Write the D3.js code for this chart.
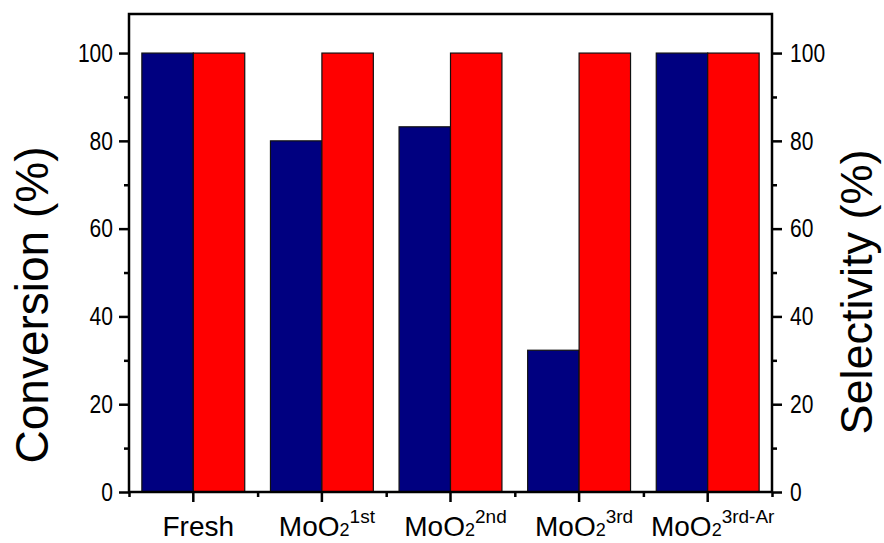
<!DOCTYPE html>
<html>
<head>
<meta charset="utf-8">
<script src="https://cdn.jsdelivr.net/npm/d3@7"></script>
<style>
  body { margin: 0; background: #fff; }
  svg text { font-family: "Liberation Sans", Arial, sans-serif; fill: #000; }
</style>
</head>
<body>
<div class="canvas"></div>
<script>
// data
const categories = ['Fresh', 'MoO2 1st', 'MoO2 2nd', 'MoO2 3rd', 'MoO2 3rd-Ar'];
const labelMain = ['Fresh', 'MoO', 'MoO', 'MoO', 'MoO'];
const labelSub = ['', '2', '2', '2', '2'];
const labelSup = ['', '1st', '2nd', '3rd', '3rd-Ar'];
const conversion = [100, 80, 83.2, 32.3, 100];
const selectivity = [100, 100, 100, 100, 100];
const yTicks = [0, 20, 40, 60, 80, 100];
const yMinorTicks = [10, 30, 50, 70, 90];

// 1. dimensions
const width = 884, height = 543;
const margin = {top: 14, right: 112, bottom: 51, left: 129};
const w = width - margin.left - margin.right;
const h = height - margin.top - margin.bottom;

// 2. svg
const svg = d3.select('.canvas').append('svg')
    .attr('width', width)
    .attr('height', height);

const graph = svg.append('g')
    .attr('transform', `translate(${margin.left},${margin.top})`);

// scales
const x = d3.scaleBand().domain(categories).range([0, w]).padding(0);
const xSub = d3.scaleBand().domain(['conv', 'sel']).range([0, x.bandwidth()])
    .paddingInner(0).paddingOuter(0.25);
const xEdge = d3.scaleLinear().domain([0, categories.length]).range([0, w]);
const yL = d3.scaleLinear().domain([0, 108.9]).range([h, 0]);
const yR = d3.scaleLinear().domain([0, 108.9]).range([h, 0]);

const series = [
    {key: 'conv', values: conversion, color: '#000080', scale: yL},
    {key: 'sel', values: selectivity, color: '#ff0000', scale: yR}
];

// 3. bars
const groups = graph.selectAll('g.cat').data(categories).join('g')
    .attr('class', 'cat')
    .attr('transform', d => `translate(${x(d)},0)`);

groups.selectAll('rect')
    .data((d, i) => series.map(s => ({key: s.key, v: s.values[i], color: s.color, scale: s.scale})))
    .join('rect')
    .attr('x', d => xSub(d.key))
    .attr('width', xSub.bandwidth())
    .attr('y', d => d.scale(d.v))
    .attr('height', d => h - d.scale(d.v))
    .attr('fill', d => d.color)
    .attr('stroke', '#111')
    .attr('stroke-width', 1.2);

// 4. axes
const styleAxis = g => {
    g.select('.domain').remove();
    g.selectAll('line').attr('stroke', '#000').attr('stroke-width', 2.5);
    g.attr('font-size', 26);
    // numbers in the original are narrow: squeeze them
    g.selectAll('text')
        .attr('textLength', function() { return this.textContent.length * 11.7; })
        .attr('lengthAdjust', 'spacingAndGlyphs');
};

graph.append('g')
    .call(d3.axisLeft(yL).tickValues(yTicks).tickSize(10).tickPadding(6))
    .call(styleAxis);
graph.append('g')
    .call(d3.axisLeft(yL).tickValues(yMinorTicks).tickSize(5).tickFormat(''))
    .call(styleAxis);

graph.append('g')
    .attr('transform', `translate(${w},0)`)
    .call(d3.axisRight(yR).tickValues(yTicks).tickSize(10).tickPadding(8))
    .call(styleAxis);
graph.append('g')
    .attr('transform', `translate(${w},0)`)
    .call(d3.axisRight(yR).tickValues(yMinorTicks).tickSize(5).tickFormat(''))
    .call(styleAxis);

graph.append('g')
    .attr('transform', `translate(0,${h})`)
    .call(d3.axisBottom(x).tickSize(10).tickFormat(''))
    .call(styleAxis);
graph.append('g')
    .attr('transform', `translate(0,${h})`)
    .call(d3.axisBottom(xEdge).tickValues(d3.range(categories.length + 1)).tickSize(5).tickFormat(''))
    .call(styleAxis);

// frame
graph.append('rect')
    .attr('width', w).attr('height', h)
    .attr('fill', 'none')
    .attr('stroke', '#000')
    .attr('stroke-width', 2.5);

// category labels
const labels = graph.selectAll('text.cat').data(categories).join('text')
    .attr('class', 'cat')
    .attr('x', d => x(d) + x.bandwidth() / 2 + 5)
    .attr('y', h + 44)
    .attr('text-anchor', 'middle')
    .attr('font-size', 28);

labels.each(function(d, i) {
    const t = d3.select(this);
    t.append('tspan').text(labelMain[i]);
    if (labelSub[i]) t.append('tspan').attr('font-size', 18).text(labelSub[i]);
    if (labelSup[i]) t.append('tspan').attr('font-size', 19).attr('dy', -13).text(labelSup[i]);
});

// axis titles
svg.append('text')
    .attr('transform', 'translate(48,305) rotate(-90)')
    .attr('text-anchor', 'middle')
    .attr('font-size', 46)
    .text('Conversion (%)');

svg.append('text')
    .attr('transform', 'translate(872,292) rotate(-90)')
    .attr('text-anchor', 'middle')
    .attr('font-size', 45)
    .text('Selectivity (%)');
</script>
</body>
</html>
